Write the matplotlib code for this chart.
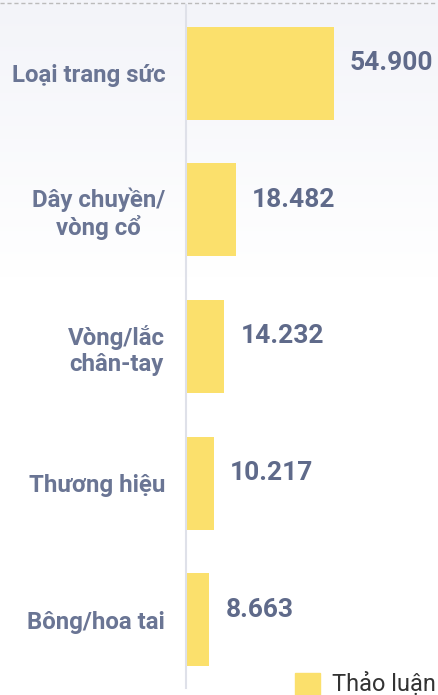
import matplotlib.pyplot as plt
import numpy as np
from matplotlib.colors import LinearSegmentedColormap

plt.rcParams["font.family"] = ["Roboto", "DejaVu Sans"]

categories = ["Loại trang sức", "Dây chuyền/\nvòng cổ", "Vòng/lắc\nchân-tay", "Thương hiệu", "Bông/hoa tai"]
values = [54900, 18482, 14232, 10217, 8663]
value_labels = ["54.900", "18.482", "14.232", "10.217", "8.663"]
series_name = "Thảo luận"

bar_color = "#fbe06c"
text_color = "#5f6a8a"

fig = plt.figure(figsize=(4.39, 6.95), dpi=100)

# soft background fade at the top
bg = fig.add_axes([0, 0, 1, 1], zorder=-1)
grad = np.linspace(0, 1, 256).reshape(-1, 1)
cmap = LinearSegmentedColormap.from_list("fade", ["#f3f4f9", "#ffffff"])
bg.imshow(grad, cmap=cmap, aspect="auto", extent=[0, 1, 0.6, 1])
bg.set_xlim(0, 1)
bg.set_ylim(0, 1)
bg.axhline(1 - 3 / 695, color="#bbbbbb", lw=1, ls=(0, (3, 2)))
bg.axis("off")

ax = fig.add_axes([186 / 439, (695 - 688) / 695, 253 / 439, 683 / 695])
ax.patch.set_alpha(0)
y = np.arange(len(categories))
ax.barh(y, values, height=0.68, color=bar_color)
ax.set_xlim(0, 54900 * 253 / 148)
ax.set_ylim(len(categories) - 0.5, -0.5)

for yi, v, lab in zip(y, values, value_labels):
    ax.annotate(lab, (v, yi), xytext=(16, 10), textcoords="offset pixels",
                ha="left", va="center", fontsize=19, fontweight="bold", color=text_color)

ax.set_yticks(y)
ax.set_yticklabels(categories, fontsize=17.3, fontweight="bold", color="#6a7594",
                   multialignment="center", linespacing=1.15)
ax.tick_params(axis="y", length=0, pad=15)
ax.set_xticks([])
for side in ["top", "right", "bottom"]:
    ax.spines[side].set_visible(False)
ax.spines["left"].set_color("#dfe1e9")
ax.spines["left"].set_linewidth(1.5)

# legend
fig.patches.append(plt.Rectangle((295 / 439, 0), 25 / 439, 22 / 695, transform=fig.transFigure,
                                 color=bar_color, figure=fig))
fig.text(332 / 439, 11 / 695, series_name, fontsize=17, color="#333333", va="center", ha="left")

fig.savefig("out.png", dpi=100)
